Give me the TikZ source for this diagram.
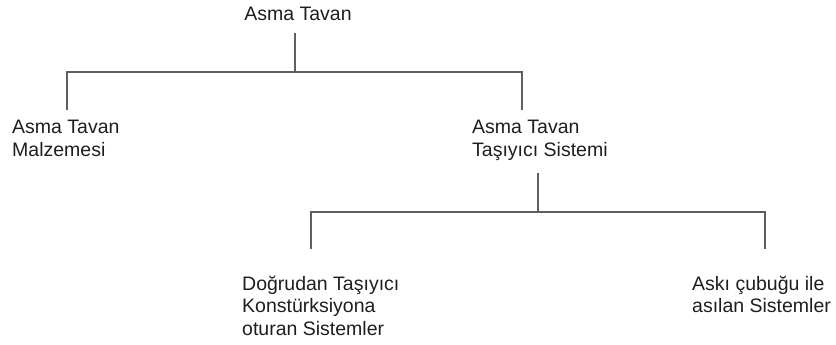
\documentclass[tikz,border=0pt]{standalone}
\usepackage{fontspec}
\setmainfont{Liberation Sans}
\definecolor{linecol}{RGB}{95,95,95}
\definecolor{txtcol}{RGB}{30,30,30}
\begin{document}
\begin{tikzpicture}[x=1pt,y=-1pt,
  lbl/.style={inner sep=0pt,anchor=base west,align=left,text=txtcol,
    font=\fontsize{19.5pt}{24pt}\selectfont},
  lblb/.style={lbl,font=\fontsize{19.5pt}{22.8pt}\selectfont},
  conn/.style={draw=linecol,line width=1.3pt}]
\useasboundingbox (0,0) rectangle (836,345);
% texts (base anchor = baseline of last line)
\node[lbl,anchor=base] (top) at (298,21) {Asma Tavan};
\node[lbl] (mat) at (12,157) {Asma Tavan\\Malzemesi};
\node[lbl] (tas) at (472,157) {Asma Tavan\\Taşıyıcı Sistemi};
\node[lblb] (dog) at (242,335.6) {Doğrudan Taşıyıcı\\Konstürksiyona\\oturan Sistemler};
\node[lblb] (ask) at (692,312.8) {Askı çubuğu ile\\asılan Sistemler};
% junction coordinates
\coordinate (t0) at (295,33);
\coordinate (t1) at (295,72);
\coordinate (m0) at (67,110);
\coordinate (s0) at (522,110);
\coordinate (u0) at (538,173);
\coordinate (u1) at (538,212);
\coordinate (d0) at (311,249);
\coordinate (a0) at (765,249);
% connectors
\draw[conn] (t0) -- (t1);
\draw[conn] (m0) |- (t1) -| (s0);
\draw[conn] (u0) -- (u1);
\draw[conn] (d0) |- (u1) -| (a0);
\end{tikzpicture}
\end{document}
